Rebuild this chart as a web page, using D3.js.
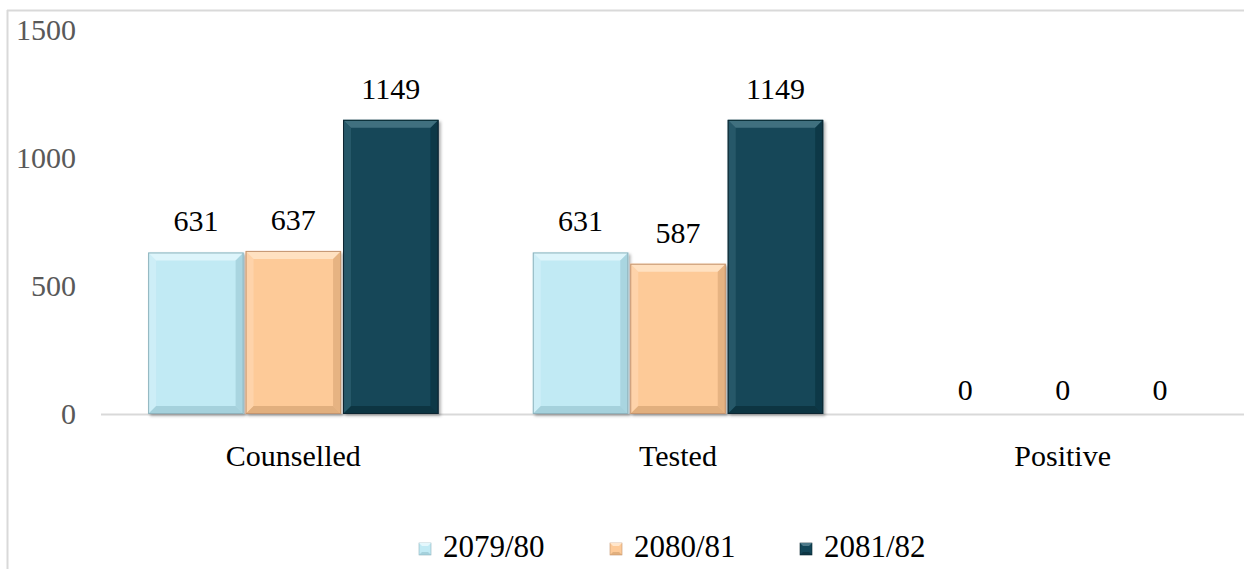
<!DOCTYPE html>
<html>
<head>
<meta charset="utf-8">
<script src="https://cdn.jsdelivr.net/npm/d3@7"></script>
<style>
  body { margin: 0; background: #fff; }
  svg text { font-family: "Liberation Serif", serif !important; }
</style>
</head>
<body>
<svg></svg>
<script>
var categories = ['Counselled', 'Tested', 'Positive'];
var years = ['2079/80', '2080/81', '2081/82'];
var values2079 = [631, 631, 0];
var values2080 = [637, 587, 0];
var values2081 = [1149, 1149, 0];
var yTicks = [0, 500, 1000, 1500];

var width = 1244;
var height = 569;
var font = 'Liberation Serif';
var svg = d3.select('svg')
			.attr('width', width)
			.attr('height', height);

var color = {
	'2079/80': { fill: '#C1EAF4', light: '#E4F7FC', dark: '#92BFCB', edge: '#8fb3bd' },
	'2080/81': { fill: '#FDCA98', light: '#FFE6CC', dark: '#CF9C6C', edge: '#c49570' },
	'2081/82': { fill: '#134658', light: '#4E7A8A', dark: '#0A2A36', edge: '#0a2630' }
};

var series = years.map(function(y, i){
	return { year: y, values: [values2079, values2080, values2081][i] };
});

var data = [];
categories.forEach(function(c, ci){
	series.forEach(function(s){
		data.push({ cat: c, year: s.year, value: s.values[ci] });
	});
});

// frame
svg.append('line').attr('x1', 7).attr('x2', width).attr('y1', 10.5).attr('y2', 10.5)
	.attr('stroke', '#d9d9d9').attr('stroke-width', 2);
svg.append('line').attr('x1', 7.5).attr('x2', 7.5).attr('y1', 10).attr('y2', height)
	.attr('stroke', '#d9d9d9').attr('stroke-width', 2);

var xScale = d3.scaleBand()
			.domain(categories)
			.range([101, 1255])
			.paddingInner(0.245)
			.paddingOuter(0.1225);

var xInner = d3.scaleBand()
			.domain(years)
			.range([0, xScale.bandwidth()])
			.paddingInner(0.02);

var yScale = d3.scaleLinear()
			.domain([0, 1500])
			.range([414, 30]);

// baseline
svg.append('line').attr('x1', 101).attr('x2', width).attr('y1', 414.5).attr('y2', 414.5)
	.attr('stroke', '#d9d9d9').attr('stroke-width', 2);

// y axis
var yAxis = svg.append('g')
	.attr('transform', 'translate(76,0)')
	.call(d3.axisLeft(yScale).tickValues(yTicks).tickFormat(d3.format('d')).tickSize(0).tickPadding(0))
	.attr('font-family', font)
	.attr('font-size', 30);
yAxis.select('.domain').remove();
yAxis.selectAll('text')
	.attr('fill', '#595959');

var defs = svg.append('defs');
var f = defs.append('filter').attr('id', 'shadow').attr('x', '-10%').attr('y', '-10%').attr('width', '130%').attr('height', '120%');
f.append('feDropShadow').attr('dx', 2).attr('dy', 2).attr('stdDeviation', 1.5).attr('flood-color', '#000').attr('flood-opacity', 0.3);

// bars with bevel
var bars = svg.selectAll('g.bar')
	.data(data.filter(function(d){ return d.value > 0; }))
	.enter()
	.append('g')
	.attr('class', 'bar')
	.attr('filter', 'url(#shadow)');

bars.each(function(d){
	var g = d3.select(this);
	var x0 = xScale(d.cat) + xInner(d.year);
	var w = xInner.bandwidth();
	var y0 = yScale(d.value);
	var y1 = yScale(0);
	var b = 8;
	var c = color[d.year];
	g.append('rect').attr('x', x0).attr('y', y0).attr('width', w).attr('height', y1 - y0).attr('fill', c.fill);
	g.append('polygon').attr('fill', c.light).attr('opacity', 0.8)
		.attr('points', [[x0, y0], [x0 + w, y0], [x0 + w - b, y0 + b], [x0 + b, y0 + b]].join(' '));
	g.append('polygon').attr('fill', c.light).attr('opacity', 0.35)
		.attr('points', [[x0, y0], [x0 + b, y0 + b], [x0 + b, y1 - b], [x0, y1]].join(' '));
	g.append('polygon').attr('fill', c.dark).attr('opacity', 0.5)
		.attr('points', [[x0 + w, y0], [x0 + w, y1], [x0 + w - b, y1 - b], [x0 + w - b, y0 + b]].join(' '));
	g.append('polygon').attr('fill', c.dark).attr('opacity', 0.6)
		.attr('points', [[x0, y1], [x0 + b, y1 - b], [x0 + w - b, y1 - b], [x0 + w, y1]].join(' '));
	g.append('rect').attr('x', x0 + 0.5).attr('y', y0 + 0.5).attr('width', w - 1).attr('height', y1 - y0 - 1)
		.attr('fill', 'none').attr('stroke', c.edge).attr('stroke-width', 1);
});

// value labels
svg.selectAll('text.value')
	.data(data)
	.enter()
	.append('text')
	.attr('class', 'value')
	.attr('x', function(d){ return xScale(d.cat) + xInner(d.year) + xInner.bandwidth() / 2; })
	.attr('y', function(d){ return yScale(d.value) - (d.value > 0 ? 21 : 14); })
	.attr('text-anchor', 'middle')
	.attr('font-family', font)
	.attr('font-size', 30)
	.attr('fill', '#000')
	.text(function(d){ return d.value; });

// category labels
svg.selectAll('text.cat')
	.data(categories)
	.enter()
	.append('text')
	.attr('class', 'cat')
	.attr('x', function(d){ return xScale(d) + xScale.bandwidth() / 2; })
	.attr('y', 466)
	.attr('text-anchor', 'middle')
	.attr('font-family', font)
	.attr('font-size', 30)
	.attr('fill', '#000')
	.text(function(d){ return d; });

// legend
var legendX = [419, 610, 800];
var legend = svg.selectAll('g.legend')
	.data(years)
	.enter()
	.append('g')
	.attr('class', 'legend')
	.attr('transform', function(d, i){ return 'translate(' + legendX[i] + ',543)'; });

legend.each(function(d){
	var g = d3.select(this);
	var c = color[d];
	var s = 12;
	g.append('rect').attr('width', s).attr('height', s).attr('fill', c.fill).attr('stroke', c.edge).attr('stroke-width', 0.6);
	g.append('polygon').attr('fill', c.light).attr('points', [[0, 0], [s, 0], [s - 3, 3], [3, 3]].join(' '));
	g.append('polygon').attr('fill', c.dark).attr('opacity', 0.6).attr('points', [[0, s], [3, s - 3], [s - 3, s - 3], [s, s]].join(' '));
	g.append('text').attr('x', s + 12).attr('y', 14)
		.attr('font-family', font)
		.attr('font-size', 31).attr('fill', '#000').text(d);
});
</script>
</body>
</html>
